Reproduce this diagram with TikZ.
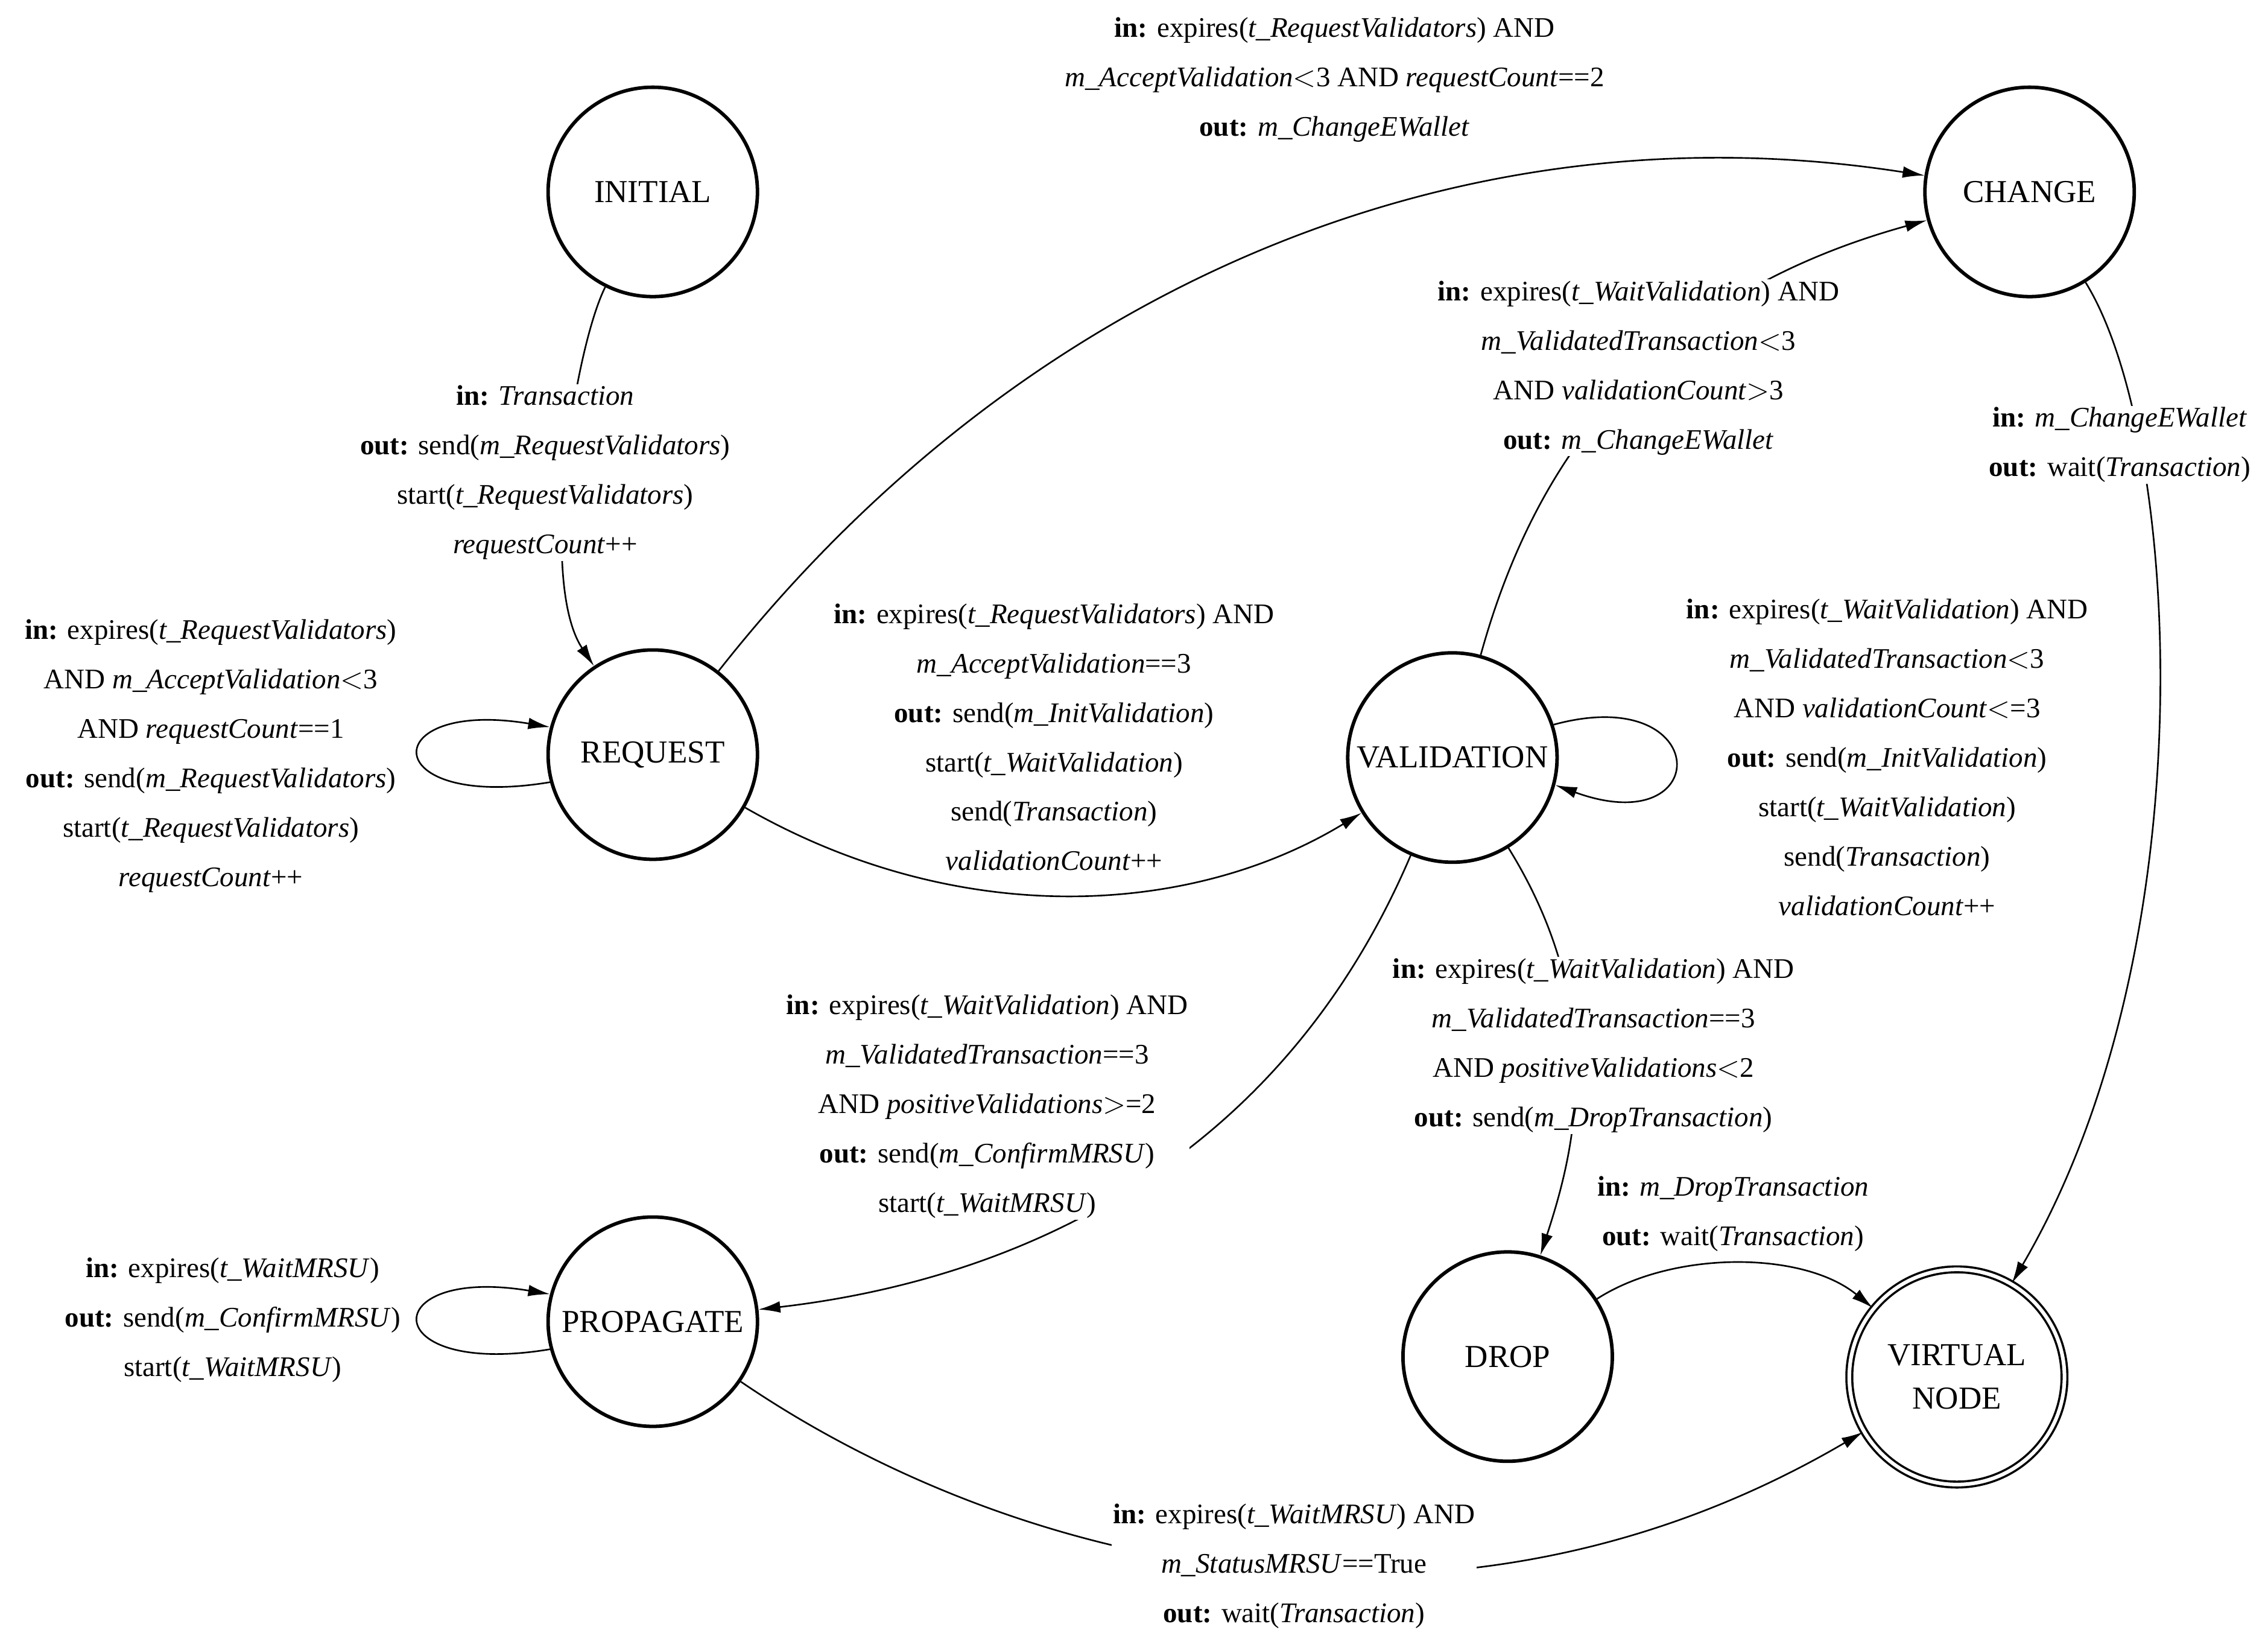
\documentclass[tikz,border=0pt]{standalone}
\usepackage{fontspec}
\setmainfont{Liberation Serif}
\usetikzlibrary{arrows.meta}
\tikzset{
  state/.style={circle,draw,line width=2.4pt,minimum size=144pt,inner sep=0pt,font=\fontsize{22}{24}\selectfont},
  vstate/.style={state,double,double distance=2.5pt,line width=1.5pt,minimum size=148pt,align=center},
  lbl/.style={align=center,fill=white,inner sep=1pt,font=\fontsize{19.5}{34}\selectfont},
  edge/.style={-{Latex[length=15pt,width=8pt]},line width=1.1pt},
}
\begin{document}
\begin{tikzpicture}[x=1pt, y=-1pt]
      \useasboundingbox (0,0) rectangle (1560,1121);

      % states
      \node [state]  (initial)    at (449,132)  {INITIAL};
      \node [state]  (request)    at (449,519)  {REQUEST};
      \node [state]  (change)     at (1396,132) {CHANGE};
      \node [state]  (validation) at (999,521)  {VALIDATION};
      \node [state]  (propagate)  at (449,909)  {PROPAGATE};
      \node [state]  (drop)       at (1037,933) {DROP};
      \node [vstate] (virtual)    at (1346,947) {VIRTUAL\\[6pt]NODE};

      % transitions
      \draw [edge] (initial) .. controls (395,240) and (370,400) .. (request);
      \draw [edge] (request) .. controls (700,200) and (1000,70) .. (change);
      \draw [edge] (request) .. controls (660,640) and (820,630) .. (validation);
      \draw [edge] (request.195) .. controls +(-120,20) and +(-120,-20) .. (request.165);
      \draw [edge] (validation) .. controls (1060,300) and (1150,200) .. (change);
      \draw [edge] (validation.18) .. controls +(110,-30) and +(110,40) .. (validation.-15);
      \draw [edge] (validation) .. controls (880,800) and (700,880) .. (propagate);
      \draw [edge] (validation) .. controls (1110,700) and (1080,800) .. (drop);
      \draw [edge] (change) .. controls (1500,300) and (1520,650) .. (virtual);
      \draw [edge] (drop) .. controls (1150,860) and (1240,860) .. (virtual);
      \draw [edge] (propagate) .. controls (700,1080) and (1000,1150) .. (virtual);
      \draw [edge] (propagate.195) .. controls +(-120,20) and +(-120,-20) .. (propagate.165);

      % labels
      \node [lbl] (l1) at (375,325) {\textbf{in:} \textit{Transaction}\\
        \textbf{out:} send(\textit{m\_RequestValidators})\\
        start(\textit{t\_RequestValidators})\\
        \textit{requestCount}++};
      \node [lbl] (l2) at (918,55) {\textbf{in:} expires(\textit{t\_RequestValidators}) AND\\
        \textit{m\_AcceptValidation}$<$3 AND \textit{requestCount}==2\\
        \textbf{out:} \textit{m\_ChangeEWallet}};
      \node [lbl,fill=none] (l3) at (725,507) {\textbf{in:} expires(\textit{t\_RequestValidators}) AND\\
        \textit{m\_AcceptValidation}==3\\
        \textbf{out:} send(\textit{m\_InitValidation})\\
        start(\textit{t\_WaitValidation})\\
        send(\textit{Transaction})\\
        \textit{validationCount}++};
      \node [lbl,fill=none] (l4) at (145,520) {\textbf{in:} expires(\textit{t\_RequestValidators})\\
        AND \textit{m\_AcceptValidation}$<$3\\
        AND \textit{requestCount}==1\\
        \textbf{out:} send(\textit{m\_RequestValidators})\\
        start(\textit{t\_RequestValidators})\\
        \textit{requestCount}++};
      \node [lbl] (l5) at (1127,253) {\textbf{in:} expires(\textit{t\_WaitValidation}) AND\\
        \textit{m\_ValidatedTransaction}$<$3\\
        AND \textit{validationCount}$>$3\\
        \textbf{out:} \textit{m\_ChangeEWallet}};
      \node [lbl] (l6) at (1298,521) {\textbf{in:} expires(\textit{t\_WaitValidation}) AND\\
        \textit{m\_ValidatedTransaction}$<$3\\
        AND \textit{validationCount}$<$=3\\
        \textbf{out:} send(\textit{m\_InitValidation})\\
        start(\textit{t\_WaitValidation})\\
        send(\textit{Transaction})\\
        \textit{validationCount}++};
      \node [lbl] (l7) at (679,761) {\textbf{in:} expires(\textit{t\_WaitValidation}) AND\\
        \textit{m\_ValidatedTransaction}==3\\
        AND \textit{positiveValidations}$>$=2\\
        \textbf{out:} send(\textit{m\_ConfirmMRSU})\\
        start(\textit{t\_WaitMRSU})};
      \node [lbl] (l8) at (1096,719) {\textbf{in:} expires(\textit{t\_WaitValidation}) AND\\
        \textit{m\_ValidatedTransaction}==3\\
        AND \textit{positiveValidations}$<$2\\
        \textbf{out:} send(\textit{m\_DropTransaction})};
      \node [lbl] (l9) at (1458,306) {\textbf{in:} \textit{m\_ChangeEWallet}\\
        \textbf{out:} wait(\textit{Transaction})};
      \node [lbl] (l10) at (1192,835) {\textbf{in:} \textit{m\_DropTransaction}\\
        \textbf{out:} wait(\textit{Transaction})};
      \node [lbl] (l11) at (890,1077) {\textbf{in:} expires(\textit{t\_WaitMRSU}) AND\\
        \textit{m\_StatusMRSU}==True\\
        \textbf{out:} wait(\textit{Transaction})};
      \node [lbl,fill=none] (l12) at (160,908) {\textbf{in:} expires(\textit{t\_WaitMRSU})\\
        \textbf{out:} send(\textit{m\_ConfirmMRSU})\\
        start(\textit{t\_WaitMRSU})};
\end{tikzpicture}
\end{document}
